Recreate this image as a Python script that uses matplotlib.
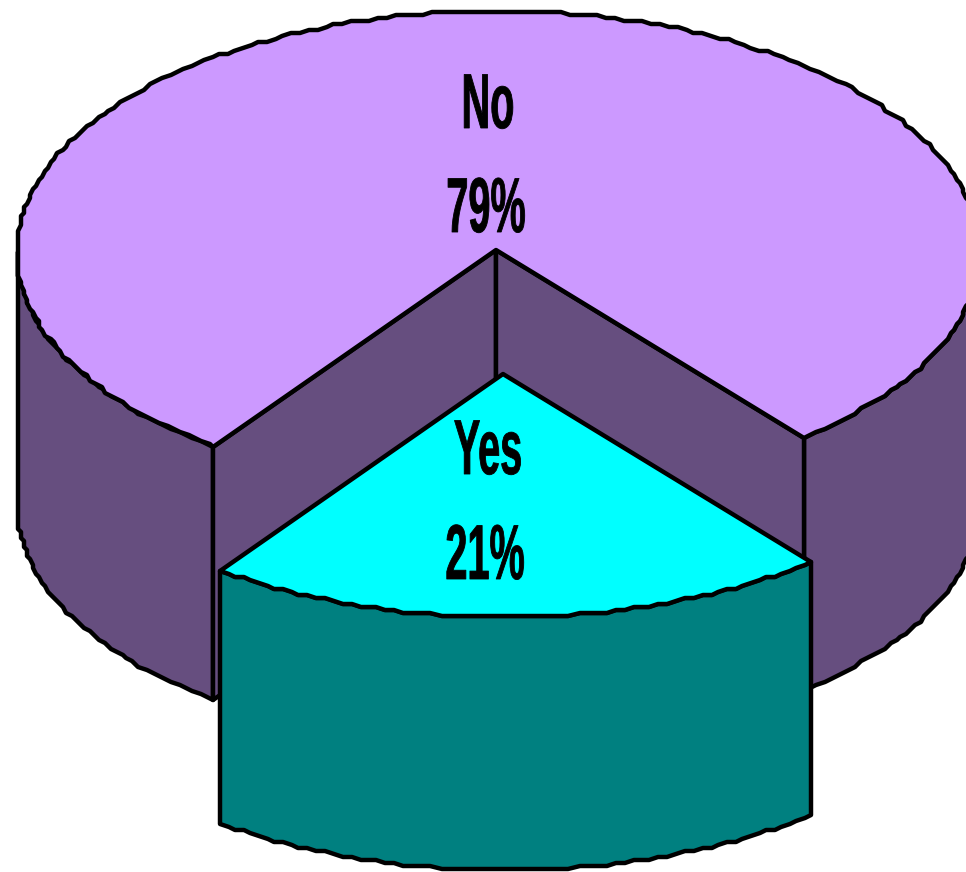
#!/usr/bin/env python
# -*- coding: utf-8 -*-

""" Exploded 3D pie, Yes / No. Drawn in pixel coordinates of the 966x872 picture. """

import numpy as np
import matplotlib
matplotlib.use('Agg')
import matplotlib.pyplot as plt
from matplotlib.patches import Polygon
from matplotlib.patheffects import AbstractPathEffect
from matplotlib.transforms import Affine2D

labels = ['Yes', 'No']
values = [21, 79]
top_colors = ['#00FFFF', '#CC99FF']
side_colors = ['#008080', '#664E7F']

# pie geometry
cx, cy = 498, 252
rx, ry = 481, 241
depth = 253
apex_shift = (-2, -2)   # the centre point is not quite the ellipse centre
explode = (7, 124)      # how far the Yes slice is pulled out
start_deg = -36.3       # measured from straight down, positive to the right
grid = 3                # the original outline is slightly stepped
step_deg = 1.1
lw = 3.2


class Squeeze(AbstractPathEffect):
    """ The original labels are a very condensed bold, squeeze the text horizontally. """

    def __init__(self, sx, x0, bold_px):
        super().__init__()
        self.sx, self.x0, self.bold_px = sx, x0, bold_px

    def draw_path(self, renderer, gc, tpath, affine, rgbFace=None):
        squeeze = Affine2D().translate(-self.x0, 0).scale(self.sx, 1).translate(self.x0, 0)
        gc0 = renderer.new_gc()
        gc0.copy_properties(gc)
        gc0.set_linewidth(self.bold_px)
        gc0.set_foreground('black')
        renderer.draw_path(gc0, tpath, affine + squeeze, rgbFace)
        gc0.restore()


def arc(a0, a1, ox=0, oy=0):
    """ Stepped ellipse arc, angles in degrees from straight down. """
    a = np.radians(np.arange(a0, a1, step_deg).tolist() + [a1])
    x = np.round((cx + rx * np.sin(a)) / grid) * grid + ox
    y = np.round((cy + ry * np.cos(a)) / grid) * grid + oy
    return np.column_stack([x, y])


def add_poly(ax, pts, color):
    ax.add_patch(Polygon(pts, closed=True, facecolor=color, edgecolor='black',
                         linewidth=lw, joinstyle='round', clip_on=True))


fig = plt.figure(figsize=(9.66, 8.72), dpi=100)
ax = fig.add_axes([0, 0, 1, 1])
ax.set_xlim(0, 966)
ax.set_ylim(872, 0)
ax.axis('off')

sweep = 360 * values[0] / sum(values)
a0, a1 = start_deg, start_deg + sweep
apex = np.array([[cx + apex_shift[0], cy + apex_shift[1]]])
down = np.array([0, depth])

# No slice: outer walls first
for lo, hi in [(-90, a0), (a1, 90)]:
    rim = arc(lo, hi)
    add_poly(ax, np.vstack([rim, (rim + down)[::-1]]), side_colors[1])

# No slice: the two walls of the gap
for a in [a0, a1]:
    corner = arc(a, a)[-1:]
    add_poly(ax, np.vstack([apex, corner, corner + down, apex + down]), side_colors[1])

# No slice: top
add_poly(ax, np.vstack([apex, arc(a1, a0 + 360)]), top_colors[1])

# Yes slice
rim = arc(a0, a1, *explode)
add_poly(ax, np.vstack([rim, (rim + down)[::-1]]), side_colors[0])
add_poly(ax, np.vstack([apex + explode, rim]), top_colors[0])

# labels
label_pos = {'No': (488, 128, 486, 232), 'Yes': (488, 474, 485, 579)}
for name, val in zip(labels, values):
    x1, y1, x2, y2 = label_pos[name]
    for x, y, s in [(x1, y1, name), (x2, y2, f'{val}%')]:
        ax.text(x, y, s, ha='center', va='baseline', fontsize=56, fontweight='bold',
                family=['Liberation Sans', 'DejaVu Sans'], color='black',
                path_effects=[Squeeze(0.51, x, 0.6)])

fig.savefig('out.png', dpi=100, facecolor='white')
